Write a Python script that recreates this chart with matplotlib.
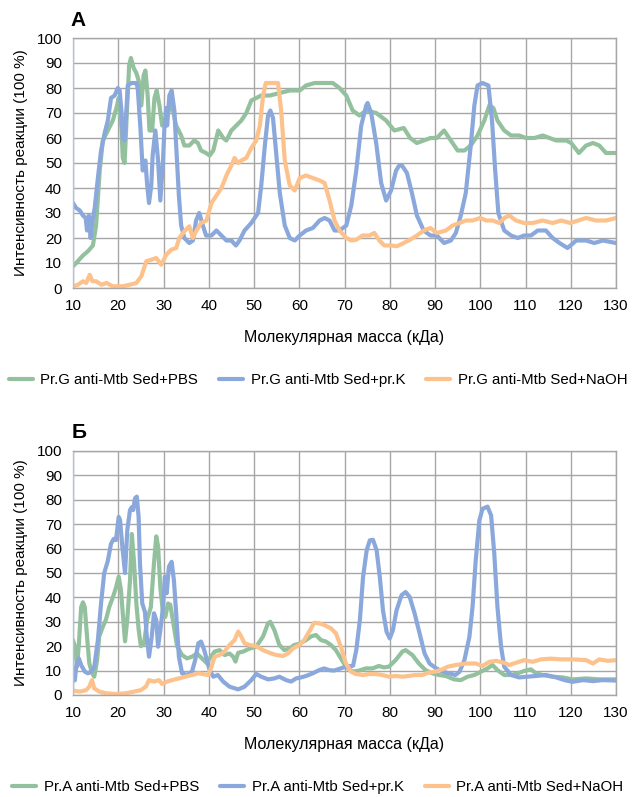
import matplotlib
matplotlib.use("Agg")
from matplotlib import pyplot as plt

plt.rcParams['font.family'] = ['Liberation Sans', 'DejaVu Sans']

# ---- panel A: Pr.G ----
a_pbs_x = [10, 10.7, 12.2, 13.3, 14.4, 15.1, 15.9, 16.6, 17.7, 18.8, 19.6, 20.1, 20.7, 21.0, 21.4, 21.9, 22.4, 22.8,
           23.4, 24.0, 24.5, 25.1, 25.6, 26.0, 26.5, 26.9, 27.5, 28.0, 28.5, 29.1, 29.7, 30.6, 31.7, 32.8, 33.9, 34.6,
           35.7, 36.8, 37.6, 38.3, 39.4, 40.2, 41.0, 42.1, 43.2, 43.9, 45.0, 46.1, 47.2, 48.3, 49.4, 50.5, 51.6, 53.5,
           55.7, 57.9, 60.1, 61.5, 63.4, 65.2, 67.4, 68.9, 70.4, 71.8, 73.3, 74.8, 77.0, 79.2, 81.0, 83.1, 84.5, 86.0,
           87.5, 89.0, 90.4, 92.0, 93.5, 95.0, 96.5, 97.9, 99.4, 100.9, 102.0, 102.9, 103.8, 105.3, 106.8, 108.6,
           110.1, 112.0, 113.8, 115.3, 116.8, 119.0, 120.1, 121.8, 123.4, 124.9, 126.3, 127.8, 130]
a_pbs_y = [8.7, 10, 13, 14.7, 17, 25, 47, 59, 63, 67, 72, 76, 64, 52, 50, 70, 89, 92,
           88, 86, 83, 73, 85, 87, 77, 63, 63, 76, 79, 73, 65, 68, 74, 65, 61, 57,
           57, 59, 58, 55, 54, 53, 55, 63, 60, 59, 63, 65, 67, 70, 75, 76, 77, 77,
           78, 79, 79, 81, 82, 82, 82, 80, 77, 71, 69, 71, 70, 67, 63, 64, 60, 58,
           59, 60, 60, 63, 59, 55, 55, 57, 61, 67, 73, 72, 67, 63, 61, 61,
           60, 60, 61, 60, 59, 59, 58, 54, 57, 58, 57, 54, 54]

a_prk_x = [10, 10.7, 11.5, 12.2, 12.8, 13.1, 13.5, 13.9, 14.3, 14.8, 15.5, 16.2, 17.0, 17.7, 18.4, 19.2, 19.9, 20.3,
           20.7, 21.0, 21.4, 21.8, 22.1, 22.9, 24.0, 24.3, 24.9, 25.4, 26.0, 26.4, 26.8, 27.3, 27.6, 28.2, 28.8, 29.3,
           29.9, 30.2, 30.6, 30.8, 31.3, 31.8, 32.4, 32.8, 33.4, 33.9, 34.6, 35.7, 36.5, 37.2, 37.9, 38.7, 39.4, 40.6,
           41.7, 42.8, 43.9, 45.0, 46.0, 46.8, 47.9, 49.4, 50.9, 51.6, 52.4, 53.1, 53.6, 54.2, 54.9, 55.7, 56.8, 57.9,
           59.0, 60.1, 61.5, 63.0, 64.5, 65.6, 66.7, 67.8, 68.9, 70.4, 71.5, 72.6, 73.7, 74.8, 75.1, 75.9, 77.0, 78.1,
           79.2, 80.3, 81.4, 82.1, 82.7, 83.8, 84.9, 86.0, 87.5, 89.0, 90.4, 92.0, 93.5, 94.6, 95.7, 96.8, 97.9, 98.7,
           99.4, 100.5, 101.8, 102.6, 103.3, 104.0, 105.3, 106.8, 108.3, 109.7, 111.2, 112.7, 114.5, 116.0, 117.5,
           119.3, 121.2, 123.4, 125.2, 127.1, 130]
a_prk_y = [34, 32, 31, 29, 28, 23, 29, 20, 27, 32, 44, 55, 62, 67, 76, 77, 80, 79,
           71, 60, 59, 71, 81, 82, 82, 80, 64, 47, 51, 41, 34, 41, 53, 63, 51, 35,
           51, 64, 72, 65, 77, 79, 71, 57, 37, 25, 20, 18, 19, 27, 30, 25, 21, 21,
           23, 21, 19, 19, 17, 19, 23, 26, 30, 41, 57, 69, 71, 68, 54, 38, 25, 20,
           19, 21, 23, 24, 27, 28, 27, 23, 23, 25, 33, 47, 65, 73, 74, 70, 58, 42,
           35, 39, 47, 49, 49, 46, 38, 29, 23, 21, 21, 18, 19, 22, 29, 38, 57, 73,
           81, 82, 81, 67, 47, 30, 23, 21, 20, 21, 21, 23, 23, 20, 18,
           16, 19, 19, 18, 19, 18]

a_naoh_x = [10, 11.1, 12.2, 12.9, 13.7, 14.3, 15.1, 16.3, 17.4, 18.8, 21.0, 22.5, 24.0, 25.1, 26.2, 27.3, 28.4,
            29.5, 30.6, 31.7, 32.8, 33.5, 34.6, 35.7, 36.5, 37.2, 38.3, 39.5, 40.6, 41.7, 42.8, 43.9, 45.0, 45.7,
            46.5, 47.2, 48.3, 49.4, 50.5, 51.3, 52.0, 52.6, 53.8, 55.3, 56.0, 56.8, 57.9, 59.0, 60.1, 61.5, 63.0,
            64.5, 65.6, 66.7, 67.8, 68.9, 70.4, 71.5, 72.6, 74.0, 75.5, 76.6, 77.7, 78.8, 80.3, 81.6, 83.1, 84.5,
            86.0, 87.5, 89.0, 90.4, 92.4, 93.9, 95.4, 96.8, 98.3, 100.0, 101.3, 102.7, 104.2, 105.3, 106.4, 107.9,
            109.7, 111.6, 113.8, 116.0, 117.9, 119.9, 123.4, 125.6, 127.8, 130]
a_naoh_y = [0.7, 1.3, 2.7, 2, 5.3, 2.7, 2.7, 1.3, 2, 0.7, 0.7, 1.3, 2, 4.7, 10.7, 11.3, 12,
            9.3, 13.3, 15.3, 16, 20, 22.7, 24.7, 20, 22.7, 26, 27, 34, 37, 40, 45, 49, 52,
            50, 51, 52, 56, 59, 65, 77, 82, 82, 82, 71, 51, 41, 39, 44, 45, 44,
            43, 42, 35, 27, 23, 20, 19, 19.3, 21, 21, 22, 19, 17, 17, 16.7, 18, 19.3,
            21, 23, 24, 22, 23, 25, 26, 27, 27, 28, 27, 27, 26, 28, 29, 27,
            26, 26, 27, 26, 27, 26, 28, 27, 27, 28]

# ---- panel B: Pr.A ----
b_pbs_x = [10, 10.4, 10.9, 11.3, 11.8, 12.2, 12.6, 13.1, 13.6, 14.2, 14.7, 15.3, 15.8, 16.6, 17.3, 18.0, 18.8, 19.5,
           20.1, 20.6, 21.1, 21.5, 22.0, 22.6, 23.0, 23.5, 24.0, 24.5, 25.0, 25.7, 26.4, 27.2, 27.9, 28.4, 28.8, 29.3,
           29.9, 30.4, 31.0, 31.5, 32.3, 33.0, 34.1, 35.2, 36.3, 37.4, 38.5, 39.6, 40.2, 41.3, 42.4, 43.5, 44.6, 45.4,
           45.9, 46.5, 47.6, 49.0, 50.5, 52.0, 53.1, 53.6, 54.5, 55.6, 56.7, 57.8, 58.9, 60.0, 61.5, 62.6, 63.7, 64.8,
           65.9, 67.0, 68.1, 69.2, 70.3, 71.8, 73.2, 74.7, 76.2, 77.6, 78.7, 79.8, 81.3, 82.8, 83.5, 85.0, 86.4, 87.9,
           89.4, 90.8, 92.4, 94.2, 95.7, 97.2, 98.7, 100.1, 101.6, 102.7, 103.8, 105.3, 106.8, 108.3, 109.8, 111.2,
           112.3, 113.8, 116.0, 118.2, 120.4, 123.4, 126.3, 130]
b_pbs_y = [22.5, 20, 11.6, 21, 36, 38, 36, 24, 13, 9, 7.5, 14, 24, 28, 31, 36, 40, 44,
           48.5, 43, 31, 22, 31, 47, 66, 54, 37.5, 27, 20, 21, 31, 36, 54, 65, 61, 44,
           33.5, 32, 37.5, 37, 28, 20, 16.4, 15, 15.7, 17, 15, 13, 15, 17.8, 18.4, 16.4, 17, 15.7,
           13.7, 17.3, 17.8, 19, 19.8, 24, 29.4, 30, 26.6, 20.5, 18.4, 19, 20.5, 21, 22.5, 24, 24.6, 22.5,
           21.9, 20.5, 18.4, 15, 11.6, 9.6, 10, 10.9, 10.9, 11.9, 11.3, 11.6, 14.3, 17.8, 18.4, 16.4, 13, 10.2,
           8.9, 8.2, 7.8, 6.4, 6.1, 7.5, 8.2, 9.5, 10.9, 12.3, 10.2, 8.2, 8.2, 8.9, 9.9, 10.5,
           8.9, 8.2, 7.5, 7.2, 6.4, 6.8, 6.4, 6.4]

b_prk_x = [10, 10.4, 10.7, 11.3, 11.8, 12.6, 13.3, 14.0, 14.7, 15.5, 16.2, 16.9, 17.7, 18.4, 19.0, 19.5, 20.1, 20.4,
           20.9, 21.5, 22.0, 22.6, 23.0, 23.3, 23.7, 24.1, 24.5, 24.8, 25.3, 25.9, 26.3, 26.8, 27.4, 27.9, 28.4, 28.8,
           29.3, 29.9, 30.3, 30.7, 31.2, 31.8, 32.3, 32.8, 33.4, 34.1, 35.2, 36.3, 37.0, 37.7, 38.3, 39.0, 39.6, 40.2,
           41.0, 42.0, 43.2, 44.6, 46.5, 47.9, 49.4, 50.5, 51.6, 53.1, 54.5, 55.6, 57.1, 58.2, 59.3, 60.4, 61.5, 63.0,
           64.4, 65.5, 66.6, 67.7, 69.2, 70.3, 71.9, 72.6, 73.4, 74.1, 74.9, 75.6, 76.3, 77.1, 77.8, 78.5, 79.3, 80.0,
           80.7, 81.5, 82.6, 83.5, 84.4, 85.5, 86.6, 87.7, 88.8, 90.3, 91.8, 93.2, 94.5, 95.4, 96.5, 97.6, 98.3, 99.0,
           99.8, 100.5, 101.6, 102.4, 103.1, 103.8, 104.6, 105.3, 106.8, 108.6, 110.5, 112.3, 114.5, 116.8, 118.6,
           120.4, 122.7, 124.9, 127.1, 130]
b_prk_y = [10, 6, 11.6, 15, 12.3, 9.6, 8.9, 9.6, 11.6, 22.5, 37.6, 50, 55, 62, 64, 63.5, 73, 71.7,
           60.8, 50, 67.6, 75.8, 77, 75.8, 80.6, 81.3, 73, 54, 37.6, 34, 24, 15.7, 24, 33.5, 30.7, 19.8,
           26.6, 36, 48.5, 41.7, 52.6, 54.6, 47, 33.5, 15.7, 8.9, 8.2, 9.6, 14.3, 21.2, 21.9, 18.4, 14.3, 10.2,
           7.5, 8.2, 5.5, 3.4, 2.3, 3.4, 6.1, 8.6, 7.5, 6.4, 6.8, 7.5, 6.1, 5.5, 6.8, 7.2, 7.8, 8.9,
           10.2, 10.9, 10.2, 10, 10.9, 11.6, 12, 18.4, 30.7, 48.4, 59.3, 63.4, 63.6, 59.3, 48.4, 34.7, 25.9, 23.2,
           26.6, 34.7, 40.9, 42.2, 40.2, 33.4, 25.2, 17, 12.9, 10.9, 9.5, 8.9, 8.2, 9.5, 14.3, 23.8, 36.1, 55.2,
           71.5, 76.3, 77.2, 73.6, 57.9, 36.1, 19.8, 11.6, 8.2, 7.2, 7.5, 7.8, 8.2, 7.2, 6.1,
           5.4, 6.1, 5.7, 6.1, 5.9]

b_naoh_x = [10, 11.5, 12.9, 13.6, 14.2, 14.7, 15.8, 17.3, 19.5, 21.7, 23.5, 25.0, 26.1, 26.8, 27.9, 29.0, 29.7,
            30.8, 31.9, 33.4, 34.8, 36.3, 37.7, 39.9, 40.6, 41.3, 42.4, 43.5, 44.6, 45.7, 46.5, 47.0, 47.9, 49.0,
            50.5, 52.0, 53.4, 54.9, 56.4, 57.5, 58.6, 60.0, 61.1, 62.2, 63.3, 64.4, 65.5, 67.0, 68.1, 69.2, 70.3,
            71.4, 72.5, 74.0, 75.4, 76.9, 78.4, 79.8, 81.3, 82.8, 84.2, 85.7, 87.2, 88.6, 90.1, 91.6, 92.8, 94.6,
            96.8, 99.0, 100.5, 102.0, 103.5, 105.3, 106.4, 107.9, 109.7, 111.6, 113.4, 115.6, 117.9, 120.4, 123.4,
            124.9, 126.3, 128.2, 130]
b_naoh_y = [1.8, 1.4, 2, 3.4, 6.1, 2.7, 1.4, 0.7, 0.4, 0.7, 1.4, 2, 3.4, 6.1, 5.5, 6.1, 4.5,
            5.5, 6.1, 6.8, 7.5, 8.2, 8.9, 8.2, 11.6, 15.7, 16.4, 17.8, 20.5, 22.5, 26, 24.6, 21.2, 20.5,
            20, 18.4, 17.3, 16.4, 16, 17, 19.1, 20.5, 22.5, 26, 29.6, 29.4, 28.7, 27.3, 25.3, 19.8, 13,
            9.6, 8.6, 8.2, 8.6, 8.6, 8.2, 7.5, 7.8, 7.5, 7.8, 8.2, 8.2, 9.2, 9.6, 10.5, 11.6, 12.3,
            12.9, 12.9, 11.9, 13.6, 14, 13.2, 12.3, 13.2, 14.3, 13.6, 14.6, 14.9, 14.6, 14.6, 14.3,
            12.9, 14.6, 14, 14.3]

a_labels = ["Pr.G anti-Mtb Sed+PBS", "Pr.G anti-Mtb Sed+pr.K", "Pr.G anti-Mtb Sed+NaOH"]
b_labels = ["Pr.A anti-Mtb Sed+PBS", "Pr.A anti-Mtb Sed+pr.K", "Pr.A anti-Mtb Sed+NaOH"]
colors = ["#93c19e", "#8aa8db", "#fdc28c"]

fig = plt.figure(figsize=(6.32, 7.97), dpi=100)
ax_a = fig.add_axes([73 / 632, 1 - 288 / 797, 543 / 632, 250 / 797])
ax_b = fig.add_axes([73 / 632, 1 - 695 / 797, 543 / 632, 244 / 797])

panels = [
    (ax_a, [(a_pbs_x, a_pbs_y), (a_prk_x, a_prk_y), (a_naoh_x, a_naoh_y)], a_labels, 0.523),
    (ax_b, [(b_pbs_x, b_pbs_y), (b_prk_x, b_prk_y), (b_naoh_x, b_naoh_y)], b_labels, 0.012),
]

for ax, series, labels, ly in panels:
    for (xs, ys), lab, c in zip(series, labels, colors):
        ax.plot(xs, ys, color=c, lw=3.0, label=lab, solid_joinstyle="round", solid_capstyle="round")
    ax.set_xlim(10, 130)
    ax.set_ylim(0, 100)
    ax.set_xticks(range(10, 131, 10))
    ax.set_yticks(range(0, 101, 10))
    ax.grid(True, color="#a6a6a6", lw=1)
    ax.set_axisbelow(True)
    for s in ax.spines.values():
        s.set_color("#a6a6a6")
        s.set_linewidth(1)
    ax.spines["left"].set_color("#b4c2d8")
    ax.tick_params(length=0, labelsize=11, pad=8, colors="black")
    ax.set_xlabel("Молекулярная масса (кДа)", fontsize=11.5, labelpad=12)
    ax.set_ylabel("Интенсивность реакции (100 %)", fontsize=11, labelpad=6)
    ax.legend(loc="center", bbox_to_anchor=(0.503, ly), bbox_transform=fig.transFigure, ncol=3,
              frameon=False, fontsize=10.8, handlelength=1.6, handletextpad=0.5, columnspacing=1.4)

fig.text(70 / 632, 1 - 20 / 797, "А", fontsize=15, fontweight="bold", va="center")
fig.text(72 / 632, 1 - 433 / 797, "Б", fontsize=15, fontweight="bold", va="center")

fig.savefig("out.png", dpi=100)
